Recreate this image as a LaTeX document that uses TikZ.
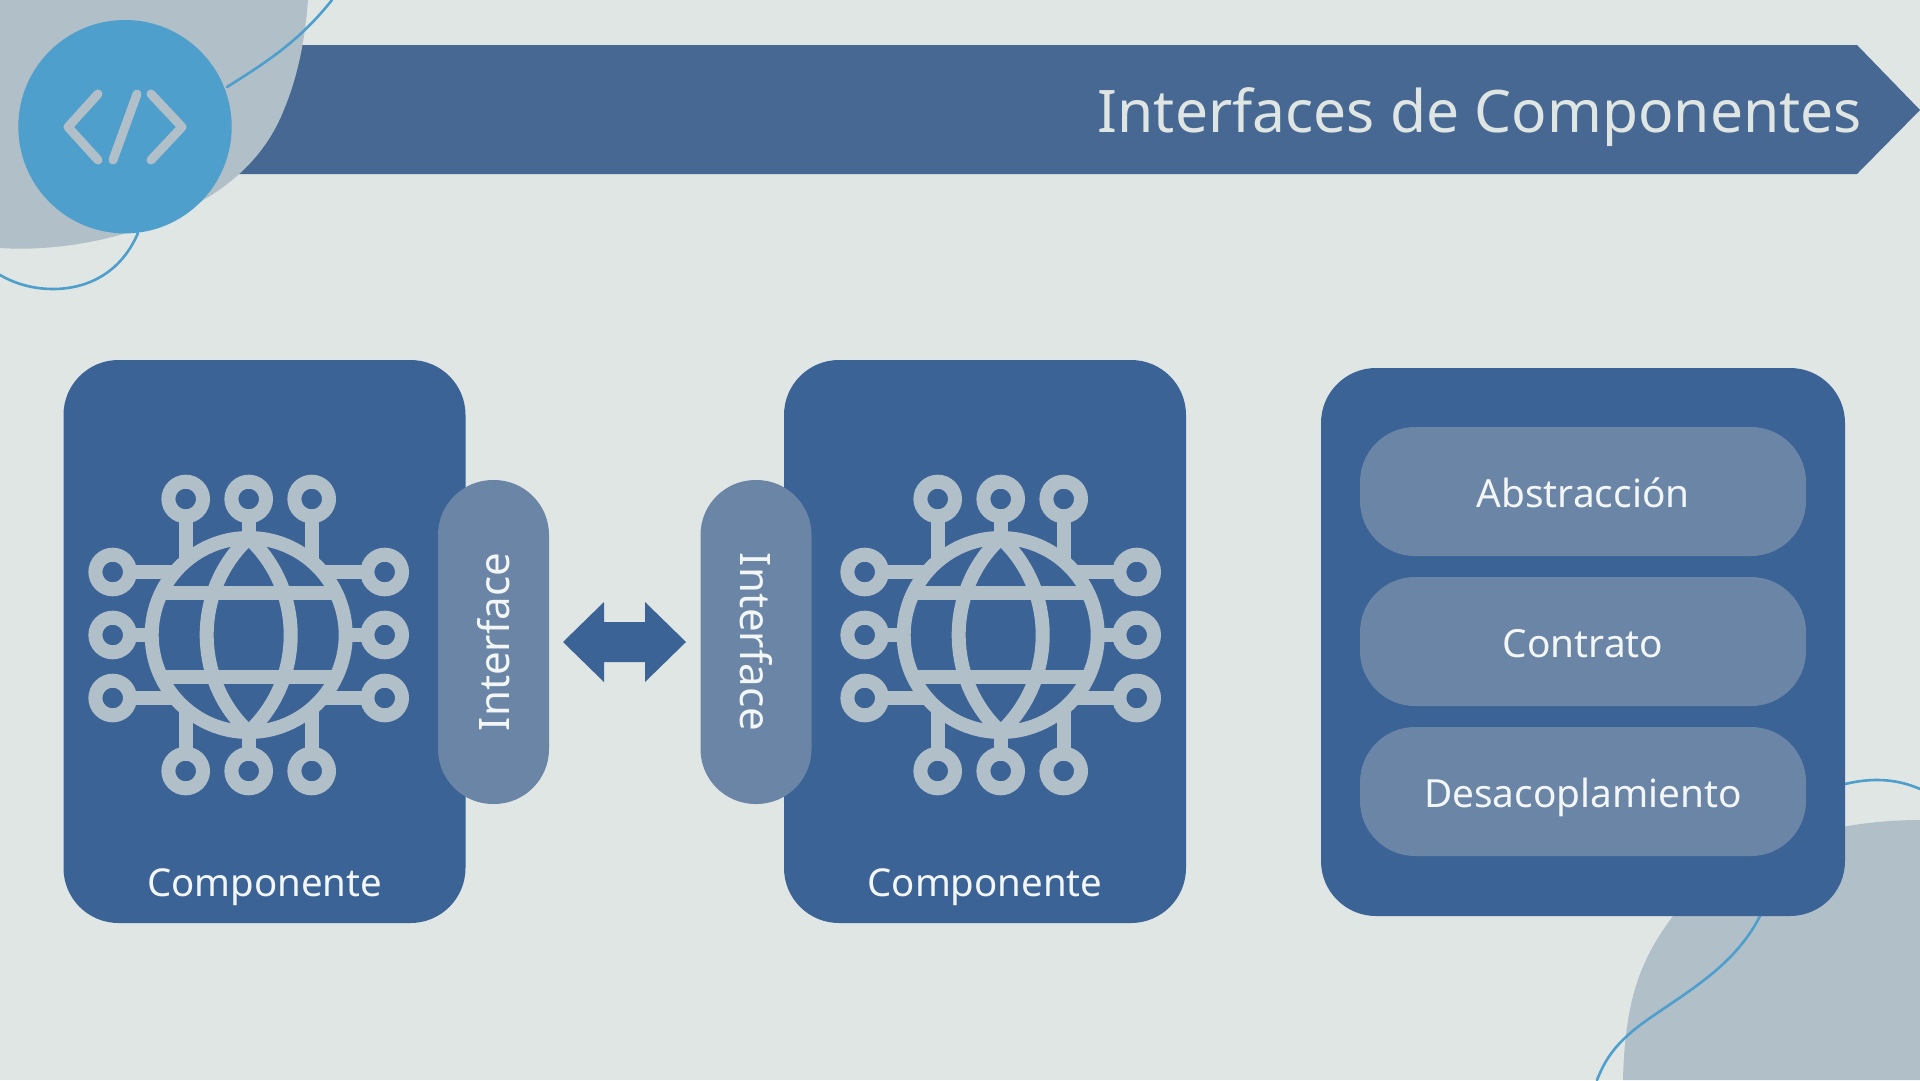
\documentclass[tikz,border=0pt]{standalone}
\usepackage{xcolor}
\usepackage{fontspec}
\setmainfont{Noto Sans}
\usetikzlibrary{calc}
\definecolor{bg}{HTML}{E0E6E3}
\definecolor{blob}{HTML}{B0BFC8}
\definecolor{banner}{HTML}{466892}
\definecolor{comp}{HTML}{3B6396}
\definecolor{pillc}{HTML}{6A85A6}
\definecolor{sky}{HTML}{4F9FCD}
\definecolor{txt}{HTML}{F3F6F6}
\definecolor{ttl}{HTML}{DFE5E3}
\tikzset{
  curve/.style={draw=sky, line width=2.6pt, line cap=round},
  ico/.style={draw=blob, line width=14pt},
  code/.style={draw=blob, line width=9pt, line cap=round, line join=round},
  compbox/.style={fill=comp, rounded corners=55pt, inner sep=0pt, minimum width=402pt, minimum height=563pt},
  pill/.style={fill=pillc, rounded corners=55pt, inner sep=0pt, text=txt, text height=36pt, text depth=5pt, font=\fontsize{38.8}{46}\selectfont, minimum width=446pt, minimum height=129pt},
  ifacep/.style={fill=pillc, rounded corners=55pt, inner sep=0pt, text=txt, font=\fontsize{42}{50}\selectfont, minimum width=324pt, minimum height=111pt},
  lab/.style={text=txt, inner sep=0pt, font=\fontsize{38.4}{46}\selectfont},
  globe/.pic={
    \draw[ico] (0,0) circle (97);
    \draw[ico] (-87.6,-41.7) -- (87.6,-41.7);
    \draw[ico] (-87.6,41.7) -- (87.6,41.7);
    \draw[ico] (0,-97) .. controls (-56,-45) and (-56,45) .. (0,97);
    \draw[ico] (0,-97) .. controls (56,-45) and (56,45) .. (0,97);
    \foreach \p in {-63,0,63} {
      \draw[ico] (\p,-136) circle (17.3);
      \draw[ico] (\p,136) circle (17.3);
      \draw[ico] (-136,\p) circle (17.3);
      \draw[ico] (136,\p) circle (17.3);
    }
    \draw[ico] (0,-119) -- (0,-97);
    \draw[ico] (0,119) -- (0,97);
    \draw[ico] (-119,0) -- (-97,0);
    \draw[ico] (119,0) -- (97,0);
    \draw[ico] (-63,-119) -- (-63,-72);
    \draw[ico] (63,-119) -- (63,-72);
    \draw[ico] (-63,119) -- (-63,72);
    \draw[ico] (63,119) -- (63,72);
    \draw[ico] (-119,-63) -- (-72,-63);
    \draw[ico] (119,-63) -- (72,-63);
    \draw[ico] (-119,63) -- (-72,63);
    \draw[ico] (119,63) -- (72,63);
  },
}
\begin{document}
\begin{tikzpicture}[x=1pt,y=-1pt]
  \useasboundingbox (0,0) rectangle (1920,1080);
  \fill[bg] (0,0) rectangle (1920,1080);
  % corner shapes
  \fill[banner] (230,45) -- (1857,45) -- (1920,110) -- (1857,174) -- (230,174) -- cycle;
  \fill[blob] (0,0) -- (308,0) .. controls (305,40) and (298,75) .. (285,107)
    .. controls (265,160) and (225,190) .. (185,210)
    .. controls (130,238) and (60,252) .. (0,248) -- cycle;
  \fill[blob] (1623,1080) .. controls (1625,1000) and (1640,960) .. (1673,916)
    .. controls (1720,860) and (1810,820) .. (1920,820) -- (1920,1080) -- cycle;
  \draw[curve] (332,0) .. controls (300,40) and (270,60) .. (227,87);
  \draw[curve] (138,233) .. controls (120,275) and (85,289) .. (53,289) .. controls (30,289) and (12,282) .. (0,275);
  \draw[curve] (1597,1080) .. controls (1605,1060) and (1615,1042) .. (1650,1018)
    .. controls (1690,990) and (1735,965) .. (1760,916);
  \draw[curve] (1845,784) .. controls (1870,778) and (1895,778) .. (1920,789);
  % logo
  \fill[sky] (125,126.7) circle (106.7);
  \draw[code] (98,94) -- (68,127) -- (98,160);
  \draw[code] (137,94) -- (113,160);
  \draw[code] (151,94) -- (182,127) -- (151,160);
  \node[anchor=east, inner sep=0pt, text=ttl, font=\fontsize{58.7}{70}\selectfont] (title) at (1862,117) {Interfaces de Componentes};
  % components
  \node[compbox] (compL) at (264.5,641.5) {};
  \node[compbox] (compR) at (985,641.5) {};
  \pic at (248.7,635) {globe};
  \pic at (1000.7,635) {globe};
  \node[lab] (labL) at (264.5,887.5) {Componente};
  \node[lab] (labR) at (985,887.5) {Componente};
  \node[ifacep, rotate=90] (ifaceL) at (493.5,642) {Interface};
  \node[ifacep, rotate=-90] (ifaceR) at (756,642) {Interface};
  \fill[comp] (563,642) -- (604,602) -- (604,622) -- (645,622) -- (645,602) -- (686,642)
    -- (645,682) -- (645,662) -- (604,662) -- (604,682) -- cycle;
  % concepts
  \node[fill=comp, rounded corners=55pt, inner sep=0pt, minimum width=524pt, minimum height=548pt] (panel) at (1583,642) {};
  \node[pill] (abs) at (1583,491.5) {Abstracción};
  \node[pill] (con) at (1583,641.5) {Contrato};
  \node[pill] (des) at (1583,791.5) {Desacoplamiento};
\end{tikzpicture}
\end{document}
